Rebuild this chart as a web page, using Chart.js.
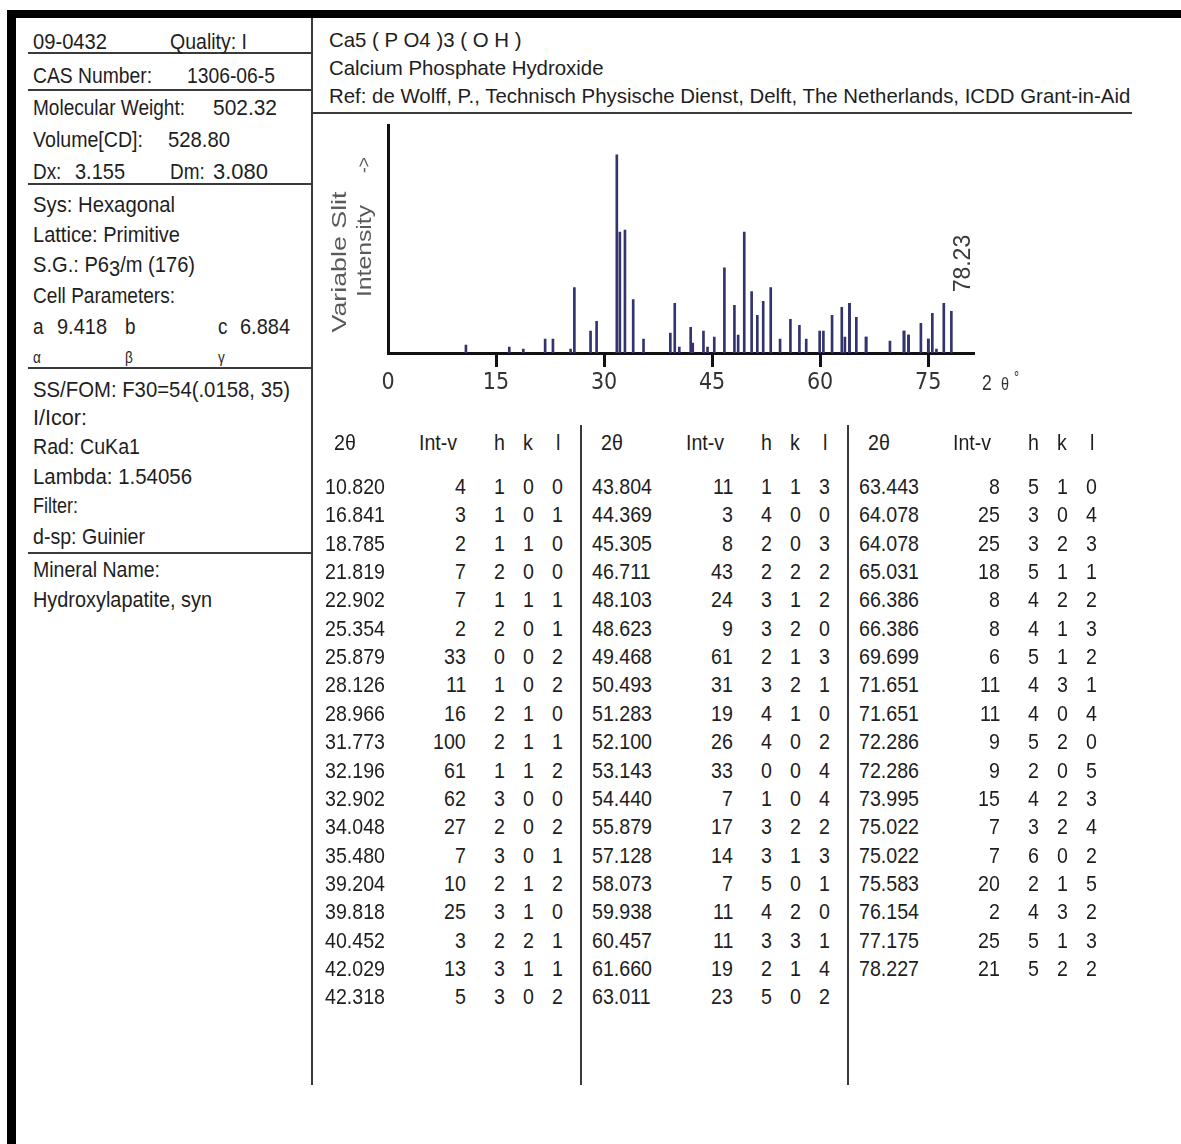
<!DOCTYPE html>
<html>
<head>
<meta charset="utf-8">
<title>09-0432 Hydroxylapatite, syn</title>
<script src="https://cdn.jsdelivr.net/npm/chart.js@4.4.1/dist/chart.umd.min.js"></script>
<style>
  html, body { margin: 0; padding: 0; background: #fff; }
  #card { position: relative; width: 1181px; height: 1144px; overflow: hidden; background: #fff; }
  .t { position: absolute; white-space: pre; font-family: "Liberation Sans", Arial, sans-serif;
       color: #1e1e1e; line-height: 26px; height: 26px; }
  .blk { position: absolute; background: #000; }
  .hl { position: absolute; height: 2px; background: #3a3a3a; }
  .vl { position: absolute; width: 2px; background: #3a3a3a; }
  #plot { position: absolute; left: 312px; top: 118px; width: 869px; height: 300px; }
</style>
</head>
<body>
<div id="card">
  <div class="blk" style="left:7px;top:10px;width:1174px;height:8px"></div>
  <div class="blk" style="left:7px;top:10px;width:9px;height:1134px"></div>
  <div class="vl" style="left:311px;top:18px;height:1067px"></div>
  <div class="vl" style="left:580px;top:425px;height:660px"></div>
  <div class="vl" style="left:847px;top:425px;height:660px"></div>
  <div class="hl" style="left:28px;top:52px;width:284px"></div>
  <div class="hl" style="left:28px;top:89px;width:284px"></div>
  <div class="hl" style="left:28px;top:183px;width:284px"></div>
  <div class="hl" style="left:28px;top:367px;width:284px"></div>
  <div class="hl" style="left:28px;top:552px;width:284px"></div>
  <div class="hl" style="left:312px;top:112px;width:820px"></div>
  <canvas id="plot" width="869" height="300"></canvas>
</div>
<script>
// Powder diffraction lines: 2-theta (deg), relative intensity, Miller indices
const twoTheta = [
  10.820, 16.841, 18.785, 21.819, 22.902, 25.354, 25.879, 28.126, 28.966, 31.773,
  32.196, 32.902, 34.048, 35.480, 39.204, 39.818, 40.452, 42.029, 42.318,
  43.804, 44.369, 45.305, 46.711, 48.103, 48.623, 49.468, 50.493, 51.283, 52.100,
  53.143, 54.440, 55.879, 57.128, 58.073, 59.938, 60.457, 61.660, 63.011,
  63.443, 64.078, 64.078, 65.031, 66.386, 66.386, 69.699, 71.651, 71.651, 72.286,
  72.286, 73.995, 75.022, 75.022, 75.583, 76.154, 77.175, 78.227
];
const intensity = [
  4, 3, 2, 7, 7, 2, 33, 11, 16, 100,
  61, 62, 27, 7, 10, 25, 3, 13, 5,
  11, 3, 8, 43, 24, 9, 61, 31, 19, 26,
  33, 7, 17, 14, 7, 11, 11, 19, 23,
  8, 25, 25, 18, 8, 8, 6, 11, 11, 9,
  9, 15, 7, 7, 20, 2, 25, 21
];
const hIdx = [
  1, 1, 1, 2, 1, 2, 0, 1, 2, 2, 1, 3, 2, 3, 2, 3, 2, 3, 3,
  1, 4, 2, 2, 3, 3, 2, 3, 4, 4, 0, 1, 3, 3, 5, 4, 3, 2, 5,
  5, 3, 3, 5, 4, 4, 5, 4, 4, 5, 2, 4, 3, 6, 2, 4, 5, 5
];
const kIdx = [
  0, 0, 1, 0, 1, 0, 0, 0, 1, 1, 1, 0, 0, 0, 1, 1, 2, 1, 0,
  1, 0, 0, 2, 1, 2, 1, 2, 1, 0, 0, 0, 2, 1, 0, 2, 3, 1, 0,
  1, 0, 2, 1, 2, 1, 1, 3, 0, 2, 0, 2, 2, 0, 1, 3, 1, 2
];
const lIdx = [
  0, 1, 0, 0, 1, 1, 2, 2, 0, 1, 2, 0, 2, 1, 2, 0, 1, 1, 2,
  3, 0, 3, 2, 2, 0, 3, 1, 0, 2, 4, 4, 2, 3, 1, 0, 1, 4, 2,
  0, 4, 3, 1, 2, 3, 2, 1, 4, 0, 5, 3, 4, 2, 5, 2, 3, 2
];
const xTicks = [0, 15, 30, 45, 60, 75];
const tableHeads = ['2θ', 'Int-v', 'h', 'k', 'l'];

const card = document.getElementById('card');
const mctx = document.createElement('canvas').getContext('2d');
function natWidth(str, size) {
  mctx.font = size + 'px "Liberation Sans"';
  return mctx.measureText(str).width;
}

// Horizontal text: x is left edge (or right / centre), cy the vertical centre of the line
function put(str, x, cy, o = {}) {
  const size = o.size || 22;
  const el = document.createElement('div');
  el.className = 't';
  if (o.html) el.innerHTML = o.html; else el.textContent = str;
  el.style.fontSize = size + 'px';
  if (o.color) el.style.color = o.color;
  const nat = natWidth(str, size);
  const sx = o.w ? o.w / nat : (o.sx || 0.86);
  const w = nat * sx;
  let left = x;
  if (o.align === 'right') left = x - w;
  else if (o.align === 'center') left = x - w / 2;
  el.style.left = left + 'px';
  el.style.top = (cy - 13) + 'px';
  el.style.transformOrigin = '0 50%';
  el.style.transform = 'scaleX(' + sx + ')';
  card.appendChild(el);
}

// Text reading bottom-to-top, centred on (cx, cy), stretched to len pixels
function putV(str, cx, cy, size, len, color) {
  const el = document.createElement('div');
  el.className = 't';
  el.textContent = str;
  el.style.fontSize = size + 'px';
  el.style.color = color;
  el.style.left = cx + 'px';
  el.style.top = cy + 'px';
  const s = len / natWidth(str, size);
  el.style.transform = 'translate(-50%,-50%) rotate(-90deg) scaleX(' + s + ')';
  card.appendChild(el);
}

// Left information panel
put('09-0432', 33, 42, { w: 74 });
put('Quality: I', 170, 42, { w: 77 });
put('CAS Number:', 33, 76, { w: 119 });
put('1306-06-5', 187, 76, { w: 88 });
put('Molecular Weight:', 33, 108, { w: 152 });
put('502.32', 213, 108, { w: 64 });
put('Volume[CD]:', 33, 140, { w: 110 });
put('528.80', 168, 140, { w: 62 });
put('Dx:', 33, 172, { sx: 0.86 });
put('3.155', 75, 172, { w: 50 });
put('Dm:', 170, 172, { sx: 0.86 });
put('3.080', 213, 172, { w: 55 });
put('Sys: Hexagonal', 33, 205, { w: 142 });
put('Lattice: Primitive', 33, 235, { w: 147 });
put('S.G.: P63/m (176)', 33, 265, { w: 162,
  html: 'S.G.: P6<span style="position:relative;top:4px">3</span>/m (176)' });
put('Cell Parameters:', 33, 296, { w: 142 });
put('a', 33, 327, { sx: 0.86 });
put('9.418', 57, 327, { w: 50 });
put('b', 125, 327, { sx: 0.86 });
put('c', 218, 327, { sx: 0.86 });
put('6.884', 240, 327, { w: 50 });
put('α', 33, 358, { size: 17, sx: 0.8 });
put('β', 125, 358, { size: 17, sx: 0.8 });
put('γ', 218, 358, { size: 17, sx: 0.8 });
put('SS/FOM: F30=54(.0158, 35)', 33, 390, { w: 257 });
put('I/Icor:', 33, 418, { w: 54 });
put('Rad: CuKa1', 33, 447, { w: 107 });
put('Lambda: 1.54056', 33, 477, { w: 159 });
put('Filter:', 33, 506, { w: 45 });
put('d-sp: Guinier', 33, 537, { w: 112 });
put('Mineral Name:', 33, 570, { w: 127 });
put('Hydroxylapatite, syn', 33, 600, { w: 179 });

// Compound header, one common horizontal squeeze
const refText = 'Ref: de Wolff, P., Technisch Physische Dienst, Delft, The Netherlands, ICDD Grant-in-Aid';
const sxHead = 802 / natWidth(refText, 21);
put('Ca5 ( P O4 )3 ( O H )', 329, 40, { size: 21, sx: sxHead });
put('Calcium Phosphate Hydroxide', 329, 68, { size: 21, sx: sxHead });
put(refText, 329, 96, { size: 21, sx: sxHead });

// Axis captions of the stick pattern
putV('Variable Slit', 339, 262, 21, 141, '#5a5a5a');
putV('Intensity', 364, 251, 21, 92, '#5a5a5a');
putV('->', 364, 165, 18, 16, '#5a5a5a');
put('2', 982, 383, { size: 22, sx: 0.8, color: '#333' });
put('θ', 1001, 384, { size: 18, sx: 0.8, color: '#333' });
put('°', 1014, 378, { size: 16, sx: 0.8, color: '#333' });

// Line table, three column groups
const sxNum = 60 / natWidth('10.820', 22);
const rowsPerGroup = Math.ceil(twoTheta.length / 3);
const groupX = [325, 592, 859];
groupX.forEach(gx => {
  put(tableHeads[0], gx + 9, 443, { sx: sxNum });
  put(tableHeads[1], gx + 132, 443, { sx: sxNum, align: 'right' });
  put(tableHeads[2], gx + 174, 443, { sx: sxNum, align: 'center' });
  put(tableHeads[3], gx + 203, 443, { sx: sxNum, align: 'center' });
  put(tableHeads[4], gx + 233, 443, { sx: sxNum, align: 'center' });
});
twoTheta.forEach((tt, i) => {
  const g = Math.floor(i / rowsPerGroup);
  const r = i - g * rowsPerGroup;
  const gx = groupX[g];
  const cy = 487 + r * 28.35;
  put(tt.toFixed(3), gx, cy, { sx: sxNum });
  put(String(intensity[i]), gx + 141, cy, { sx: sxNum, align: 'right' });
  put(String(hIdx[i]), gx + 174, cy, { sx: sxNum, align: 'center' });
  put(String(kIdx[i]), gx + 203, cy, { sx: sxNum, align: 'center' });
  put(String(lIdx[i]), gx + 232, cy, { sx: sxNum, align: 'center' });
});

// Rotated 2-theta value above the last line of the pattern
const lastLineLabel = {
  id: 'lastLineLabel',
  afterDatasetsDraw(chart) {
    const xs = chart.scales.x, ys = chart.scales.y;
    let idx = 0;
    twoTheta.forEach((v, i) => { if (v >= twoTheta[idx]) idx = i; });
    const px = xs.getPixelForValue(twoTheta[idx]);
    const py = ys.getPixelForValue(intensity[idx]);
    const c = chart.ctx;
    c.save();
    c.translate(px + 19, py - 19);
    c.rotate(-Math.PI / 2);
    c.font = '23px "Liberation Sans"';
    c.fillStyle = '#3a3a3a';
    c.textAlign = 'left';
    c.textBaseline = 'alphabetic';
    c.fillText(twoTheta[idx].toFixed(2), 0, 0);
    c.restore();
  }
};

new Chart(document.getElementById('plot'), {
  type: 'bar',
  data: {
    datasets: [{
      data: twoTheta.map((x, i) => ({ x: x, y: intensity[i] })),
      backgroundColor: '#33336e',
      borderWidth: 0,
      barThickness: 2
    }]
  },
  options: {
    responsive: false,
    animation: false,
    layout: { padding: { left: 76, right: 207.5, top: 7, bottom: 25 } },
    plugins: { legend: { display: false }, tooltip: { enabled: false } },
    scales: {
      x: {
        type: 'linear', min: 0, max: 81.3, offset: false,
        afterBuildTicks: s => { s.ticks = xTicks.map(v => ({ value: v })); },
        afterFit: s => { s.height = 40; },
        grid: {
          display: true, offset: false, drawOnChartArea: false, drawTicks: true, tickLength: 14, lineWidth: 3,
          color: c => (c.tick && c.tick.value === 0) ? 'rgba(0,0,0,0)' : '#111'
        },
        border: { display: true, width: 3, color: '#111' },
        ticks: {
          color: '#333', padding: 2, maxRotation: 0, autoSkip: false,
          font: { family: '"Liberation Sans Narrow", "DejaVu Sans Condensed", "Liberation Sans", sans-serif', size: 23 }
        }
      },
      y: {
        min: 0, max: 115,
        afterFit: s => { s.width = 0; },
        grid: { display: false, drawTicks: false },
        ticks: { display: false },
        border: { display: true, width: 3, color: '#111' }
      }
    }
  },
  plugins: [lastLineLabel]
});
</script>
</body>
</html>
